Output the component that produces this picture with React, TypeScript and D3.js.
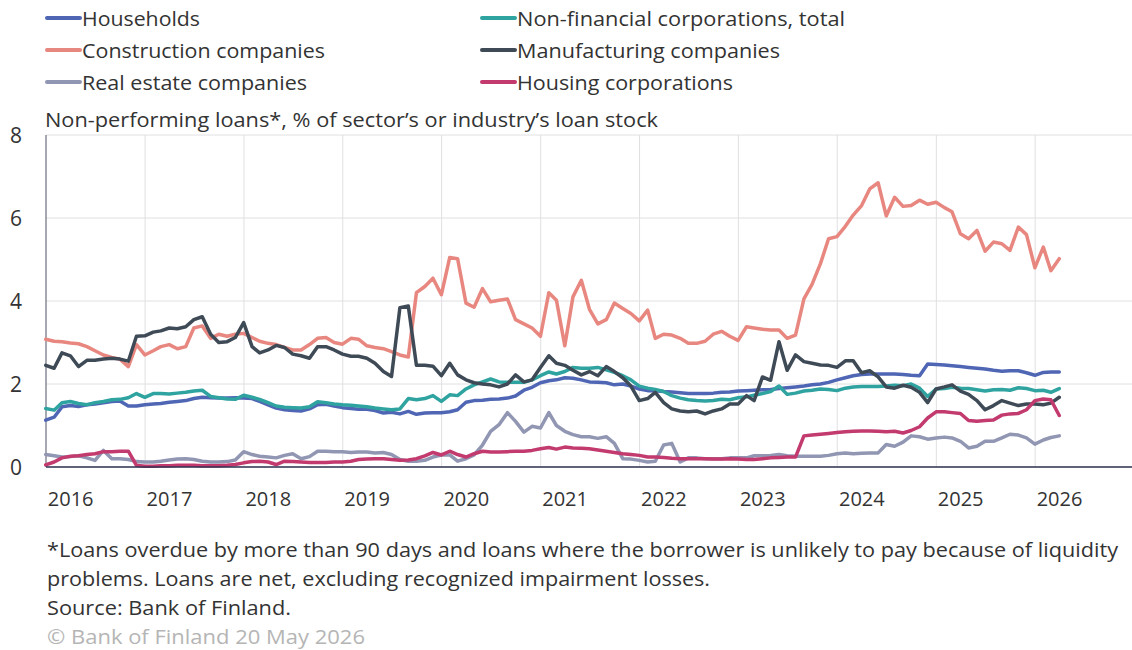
import React from "react";
import * as d3 from "d3";

const W = 1132;
const H = 650;

// Month-end observations, Dec 2015 – Mar 2026 (124 months)
const START_YEAR = 2015;
const START_MONTH = 12; // December (1-based)
const N_MONTHS = 124;

const yearLabels = ["2016", "2017", "2018", "2019", "2020", "2021", "2022", "2023", "2024", "2025", "2026"];
const yTicks = [0, 2, 4, 6, 8];

const households = [
  1.13, 1.2, 1.45, 1.48, 1.46, 1.5, 1.52, 1.55, 1.58, 1.59, 1.47, 1.47, 1.5, 1.52, 1.53, 1.56, 1.58, 1.6, 1.65, 1.68,
  1.67, 1.66, 1.66, 1.67, 1.66, 1.65, 1.58, 1.5, 1.42, 1.38, 1.36, 1.35, 1.4, 1.5, 1.51, 1.47, 1.43, 1.41, 1.39, 1.39, 1.36,
  1.3, 1.32, 1.28, 1.34, 1.27, 1.3, 1.31, 1.31, 1.33, 1.38, 1.56, 1.6, 1.61, 1.63, 1.64, 1.66, 1.71, 1.85, 1.92, 2.03, 2.08, 2.1,
  2.15, 2.14, 2.1, 2.05, 2.04, 2.03, 1.98, 2.0, 1.95, 1.88, 1.84, 1.84, 1.82, 1.81, 1.79, 1.77, 1.77, 1.77, 1.78, 1.8,
  1.81, 1.83, 1.84, 1.85, 1.86, 1.87, 1.89, 1.91, 1.93, 1.95, 1.98, 2.0, 2.04, 2.1, 2.15, 2.2, 2.23, 2.24, 2.24, 2.24, 2.24,
  2.23, 2.21, 2.2, 2.48, 2.47, 2.46, 2.44, 2.42, 2.4, 2.38, 2.36, 2.33, 2.31, 2.32, 2.32, 2.27, 2.21, 2.28, 2.29, 2.29,
];

const nonFinancial = [
  1.41, 1.37, 1.55, 1.58, 1.53, 1.5, 1.55, 1.58, 1.62, 1.63, 1.67, 1.77, 1.68, 1.77, 1.77, 1.76, 1.78, 1.8, 1.83, 1.85,
  1.7, 1.67, 1.64, 1.63, 1.73, 1.68, 1.63, 1.55, 1.47, 1.44, 1.43, 1.42, 1.45, 1.57, 1.55, 1.52, 1.5, 1.49, 1.47, 1.45, 1.42,
  1.4, 1.38, 1.4, 1.65, 1.62, 1.65, 1.72, 1.58, 1.74, 1.72, 1.88, 1.98, 2.05, 2.12, 2.05, 2.04, 2.04, 2.04, 2.1, 2.2, 2.29, 2.24,
  2.3, 2.4, 2.38, 2.38, 2.4, 2.34, 2.28, 2.2, 2.1, 1.95, 1.9, 1.87, 1.82, 1.72, 1.66, 1.62, 1.6, 1.59, 1.6, 1.63,
  1.62, 1.67, 1.69, 1.73, 1.77, 1.82, 1.95, 1.75, 1.78, 1.83, 1.85, 1.88, 1.87, 1.84, 1.9, 1.93, 1.94, 1.94, 1.94, 1.95, 1.97,
  1.96, 2.0, 1.9, 1.7, 1.88, 1.89, 1.92, 1.9, 1.89, 1.86, 1.83, 1.86, 1.87, 1.85, 1.91, 1.89, 1.84, 1.85, 1.8, 1.89,
];

const construction = [
  3.08, 3.03, 3.02, 2.99, 2.97, 2.9, 2.8, 2.7, 2.64, 2.6, 2.42, 2.95, 2.7, 2.8, 2.9, 2.95, 2.85, 2.9, 3.35, 3.4,
  3.1, 3.2, 3.15, 3.2, 3.22, 3.12, 3.03, 2.98, 2.95, 2.88, 2.82, 2.82, 2.95, 3.1, 3.12, 3.0, 2.96, 3.1, 3.08, 2.92, 2.88,
  2.85, 2.78, 2.7, 2.65, 4.2, 4.35, 4.55, 4.15, 5.05, 5.02, 3.95, 3.85, 4.3, 3.98, 4.02, 4.05, 3.55, 3.45, 3.35, 3.15, 4.2, 4.02,
  2.92, 4.1, 4.5, 3.8, 3.45, 3.55, 3.95, 3.82, 3.7, 3.52, 3.78, 3.1, 3.2, 3.18, 3.1, 2.98, 2.98, 3.03, 3.2, 3.27,
  3.15, 3.05, 3.38, 3.35, 3.32, 3.3, 3.3, 3.1, 3.18, 4.05, 4.4, 4.9, 5.5, 5.55, 5.8, 6.07, 6.3, 6.7, 6.85, 6.05, 6.5,
  6.28, 6.3, 6.43, 6.33, 6.38, 6.25, 6.15, 5.62, 5.5, 5.7, 5.2, 5.42, 5.38, 5.22, 5.78, 5.6, 4.8, 5.3, 4.73, 5.02,
];

const manufacturing = [
  2.45, 2.38, 2.75, 2.68, 2.42, 2.57, 2.57, 2.6, 2.62, 2.6, 2.55, 3.15, 3.16, 3.25, 3.28, 3.35, 3.33, 3.38, 3.55, 3.62,
  3.2, 3.0, 3.02, 3.12, 3.48, 2.9, 2.75, 2.82, 2.93, 2.88, 2.72, 2.68, 2.62, 2.9, 2.9, 2.82, 2.72, 2.67, 2.67, 2.62, 2.5,
  2.3, 2.18, 3.84, 3.88, 2.45, 2.45, 2.43, 2.2, 2.5, 2.22, 2.1, 2.03, 2.0, 1.98, 1.93, 2.0, 2.22, 2.05, 2.1, 2.4, 2.68, 2.5,
  2.45, 2.33, 2.22, 2.3, 2.2, 2.42, 2.3, 2.15, 1.95, 1.6, 1.65, 1.8, 1.55, 1.4, 1.35, 1.33, 1.35, 1.28, 1.35, 1.4,
  1.52, 1.52, 1.72, 1.6, 2.17, 2.09, 3.02, 2.33, 2.7, 2.54, 2.5, 2.46, 2.45, 2.4, 2.56, 2.56, 2.27, 2.32, 2.17, 1.93, 1.9,
  1.97, 1.92, 1.8, 1.55, 1.88, 1.93, 1.98, 1.83, 1.75, 1.6, 1.38, 1.48, 1.6, 1.54, 1.48, 1.52, 1.52, 1.5, 1.54, 1.68,
];

const realEstate = [
  0.3, 0.27, 0.24, 0.25, 0.27, 0.22, 0.16, 0.4, 0.2, 0.2, 0.18, 0.13, 0.12, 0.12, 0.14, 0.17, 0.19, 0.2, 0.18, 0.14,
  0.12, 0.12, 0.13, 0.17, 0.37, 0.3, 0.26, 0.24, 0.22, 0.28, 0.32, 0.2, 0.25, 0.38, 0.38, 0.37, 0.37, 0.35, 0.36, 0.36, 0.34,
  0.35, 0.3, 0.18, 0.14, 0.14, 0.16, 0.24, 0.29, 0.29, 0.14, 0.2, 0.29, 0.53, 0.86, 1.02, 1.31, 1.1, 0.84, 0.98, 0.94, 1.31, 1.0,
  0.86, 0.78, 0.73, 0.73, 0.69, 0.73, 0.57, 0.2, 0.19, 0.16, 0.12, 0.14, 0.53, 0.57, 0.12, 0.22, 0.22, 0.2, 0.2, 0.2,
  0.22, 0.22, 0.22, 0.27, 0.27, 0.28, 0.3, 0.27, 0.26, 0.26, 0.26, 0.26, 0.28, 0.32, 0.34, 0.32, 0.33, 0.34, 0.34, 0.54, 0.5,
  0.6, 0.75, 0.73, 0.67, 0.7, 0.72, 0.7, 0.62, 0.46, 0.5, 0.62, 0.62, 0.7, 0.79, 0.77, 0.7, 0.55, 0.65, 0.71, 0.75,
];

const housingCorps = [
  0.05, 0.12, 0.22, 0.26, 0.27, 0.3, 0.32, 0.37, 0.37, 0.38, 0.38, 0.04, 0.02, 0.02, 0.03, 0.03, 0.04, 0.04, 0.04, 0.03,
  0.03, 0.03, 0.04, 0.06, 0.1, 0.13, 0.14, 0.12, 0.06, 0.14, 0.13, 0.12, 0.11, 0.11, 0.11, 0.12, 0.12, 0.14, 0.18, 0.19, 0.2,
  0.2, 0.18, 0.16, 0.17, 0.2, 0.27, 0.35, 0.29, 0.38, 0.3, 0.24, 0.32, 0.38, 0.36, 0.36, 0.37, 0.38, 0.38, 0.4, 0.44, 0.47, 0.43,
  0.48, 0.46, 0.45, 0.44, 0.41, 0.38, 0.35, 0.32, 0.3, 0.28, 0.24, 0.24, 0.23, 0.21, 0.2, 0.2, 0.2, 0.2, 0.19, 0.19,
  0.2, 0.19, 0.18, 0.18, 0.2, 0.22, 0.23, 0.24, 0.24, 0.75, 0.77, 0.79, 0.81, 0.83, 0.85, 0.86, 0.87, 0.87, 0.86, 0.85, 0.86,
  0.82, 0.88, 0.97, 1.18, 1.33, 1.33, 1.31, 1.29, 1.12, 1.1, 1.12, 1.13, 1.25, 1.28, 1.29, 1.38, 1.6, 1.64, 1.62, 1.24,
];

const seriesNames = [
  "Households",
  "Non-financial corporations, total",
  "Construction companies",
  "Manufacturing companies",
  "Real estate companies",
  "Housing corporations",
];
const seriesColors = ["#4f66b5", "#2fa3a0", "#e8877f", "#3f4a57", "#9196b3", "#c23a6e"];
const seriesValues = [households, nonFinancial, construction, manufacturing, realEstate, housingCorps];

const subtitle = "Non-performing loans*, % of sector’s or industry’s loan stock";
const footnotes = [
  "*Loans overdue by more than 90 days and loans where the borrower is unlikely to pay because of liquidity",
  "problems. Loans are net, excluding recognized impairment losses.",
  "Source: Bank of Finland.",
];
const copyright = "© Bank of Finland 20 May 2026";

// measured text widths in the reference (px)
const legendWidths = [118, 328, 243, 263, 225, 216];
const subtitleWidth = 613;
const footnoteWidths = [1071, 663, 244];
const copyrightWidth = 318;

const FONT = "'Open Sans', Lato, sans-serif";

export default function App() {
  const months = d3.range(N_MONTHS).map((i) => new Date(START_YEAR, START_MONTH + i, 0));
  const x = d3
    .scaleTime()
    .domain([new Date(2016, 0, 1), new Date(2027, 0, 1)])
    .range([46, 1134]);
  const y = d3.scaleLinear().domain([0, 8]).range([467, 135]);
  const line = d3
    .line<number>()
    .x((_, i) => x(months[i]))
    .y((d) => y(d));

  const plotLeft = x(new Date(2016, 0, 1));
  const plotRight = W;
  const gridYears = d3.range(2017, 2027).map((yr) => new Date(yr, 0, 1));

  const legendCols = [47, 482];
  const legendRows = [18, 50, 82];

  return (
    <svg
      width={W}
      height={H}
      style={{ position: "absolute", left: 0, top: 0, background: "#fff" }}
      fontFamily={FONT}
    >
      <rect x={0} y={0} width={W} height={H} fill="#fff" />
      {/* legend */}
      {seriesNames.map((name, k) => {
        const cx = legendCols[k % 2];
        const cy = legendRows[Math.floor(k / 2)];
        return (
          <g key={name}>
            <line x1={cx} x2={cx + 33} y1={cy} y2={cy} stroke={seriesColors[k]} strokeWidth={4} strokeLinecap="round" />
            <text
              x={cx + 35}
              y={cy}
              dominantBaseline="central"
              fontSize={20}
              fill="#333"
              textLength={legendWidths[k]}
              lengthAdjust="spacingAndGlyphs"
            >
              {name}
            </text>
          </g>
        );
      })}
      <text
        x={45}
        y={119}
        dominantBaseline="central"
        fontSize={20}
        fill="#333"
        textLength={subtitleWidth}
        lengthAdjust="spacingAndGlyphs"
      >
        {subtitle}
      </text>

      {/* grid */}
      {yTicks.map((t) => (
        <line key={"gy" + t} x1={plotLeft} x2={plotRight} y1={y(t)} y2={y(t)} stroke="#e0e0e3" strokeWidth={1} />
      ))}
      {gridYears.map((d) => (
        <line key={"gx" + d.getFullYear()} x1={x(d)} x2={x(d)} y1={y(8)} y2={y(0)} stroke="#e0e0e3" strokeWidth={1} />
      ))}
      <line x1={plotLeft} x2={plotLeft} y1={y(8)} y2={y(0)} stroke="#6b6f7d" strokeWidth={1.2} />

      {/* series */}
      {seriesValues.map((vals, k) => (
        <path
          key={seriesNames[k]}
          d={line(vals) || ""}
          fill="none"
          stroke={seriesColors[k]}
          strokeWidth={3.5}
          strokeLinejoin="round"
          strokeLinecap="round"
        />
      ))}

      <line x1={plotLeft} x2={plotRight} y1={y(0)} y2={y(0)} stroke="#2f3350" strokeWidth={1.5} />

      {/* y ticks */}
      {yTicks.map((t) => (
        <text key={"yt" + t} x={16} y={y(t)} textAnchor="middle" dominantBaseline="central" fontSize={21} fill="#333">
          {t}
        </text>
      ))}
      {/* x labels */}
      {yearLabels.map((lab) => (
        <text
          key={"xl" + lab}
          x={x(new Date(+lab, 3, 1))}
          y={498}
          textAnchor="middle"
          dominantBaseline="central"
          fontSize={20}
          fill="#333"
        >
          {lab}
        </text>
      ))}

      {/* footnotes */}
      {footnotes.map((f, k) => (
        <text
          key={"fn" + k}
          x={47}
          y={549 + k * 29}
          dominantBaseline="central"
          fontSize={20}
          fill="#333"
          textLength={footnoteWidths[k]}
          lengthAdjust="spacingAndGlyphs"
        >
          {f}
        </text>
      ))}
      <text
        x={47}
        y={636}
        dominantBaseline="central"
        fontSize={20}
        fill="#b5b5b5"
        textLength={copyrightWidth}
        lengthAdjust="spacingAndGlyphs"
      >
        {copyright}
      </text>
    </svg>
  );
}
